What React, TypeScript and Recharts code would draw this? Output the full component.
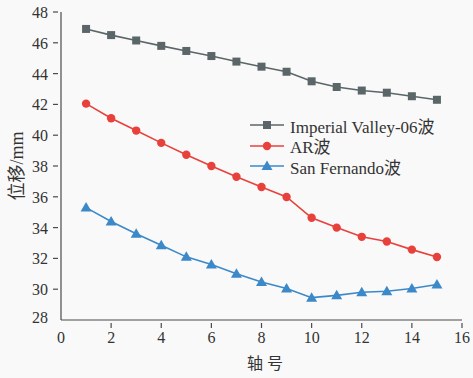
import React from 'react';
import { LineChart, Line, XAxis, YAxis } from 'recharts';

const axles = [1, 2, 3, 4, 5, 6, 7, 8, 9, 10, 11, 12, 13, 14, 15];
const imperialValley = [46.9, 46.5, 46.15, 45.8, 45.47, 45.14, 44.78, 44.45, 44.12, 43.5, 43.13, 42.9, 42.76, 42.53, 42.3];
const arWave = [42.05, 41.1, 40.3, 39.5, 38.73, 38.0, 37.3, 36.64, 35.99, 34.64, 34.0, 33.4, 33.1, 32.57, 32.09];
const sanFernando = [35.3, 34.4, 33.6, 32.85, 32.1, 31.6, 31.0, 30.47, 30.05, 29.45, 29.6, 29.8, 29.87, 30.05, 30.3];
const xTicks = [0, 2, 4, 6, 8, 10, 12, 14, 16];
const yTicks = [28, 30, 32, 34, 36, 38, 40, 42, 44, 46, 48];

const data = axles.map((a, i) => ({
  axle: a,
  iv: imperialValley[i],
  ar: arWave[i],
  sf: sanFernando[i],
}));

const FONT = '"Liberation Serif", "Times New Roman", "Noto Sans CJK SC", serif';
const AXIS = '#4a4a4a';

const series = [
  { key: 'iv', name: 'Imperial Valley-06波', color: '#5b6668', shape: 'square' },
  { key: 'ar', name: 'AR波', color: '#e8413c', shape: 'circle' },
  { key: 'sf', name: 'San Fernando波', color: '#3c89c9', shape: 'triangle' },
];

const Marker = ({ cx, cy, shape, color }: any) => {
  if (cx == null || cy == null) return null;
  if (shape === 'square') {
    return <rect x={cx - 4} y={cy - 4} width={8} height={8} fill={color} />;
  }
  if (shape === 'triangle') {
    return <polygon points={`${cx},${cy - 5.5} ${cx - 5.5},${cy + 4} ${cx + 5.5},${cy + 4}`} fill={color} />;
  }
  return <circle cx={cx} cy={cy} r={4.2} fill={color} />;
};

// ticks point inward, so draw them by hand
const xTick = (props: any) => {
  const { x, y, payload } = props;
  return (
    <g key={`xt-${payload.value}`}>
      {payload.value !== 0 && <line x1={x} y1={y} x2={x} y2={y - 5} stroke={AXIS} strokeWidth={1.2} />}
      <text x={x} y={y + 15} textAnchor="middle" style={{ fontFamily: FONT }} fontSize={16} fill="#333">
        {payload.value}
      </text>
    </g>
  );
};

const yTick = (props: any) => {
  const { x, y, payload } = props;
  return (
    <g key={`yt-${payload.value}`}>
      {payload.value !== 28 && <line x1={x} y1={y} x2={x + 5} y2={y} stroke={AXIS} strokeWidth={1.2} />}
      <text x={x - 5} y={payload.value === 28 ? y + 3 : y + 6} textAnchor="end" style={{ fontFamily: FONT }} fontSize={16} fill="#333">
        {payload.value}
      </text>
    </g>
  );
};

const LegendBox = () => (
  <div style={{ position: 'absolute', left: 250, top: 115, fontFamily: FONT, fontSize: 17, color: '#333' }}>
    {series.map((s) => (
      <div key={s.key} style={{ display: 'flex', alignItems: 'center', height: 20.5 }}>
        <svg width={34} height={12} style={{ marginRight: 6 }}>
          <line x1={0} y1={6} x2={34} y2={6} stroke={s.color} strokeWidth={1.6} />
          <Marker cx={17} cy={6} shape={s.shape} color={s.color} />
        </svg>
        <span style={{ whiteSpace: 'nowrap' }}>{s.name}</span>
      </div>
    ))}
  </div>
);

export default function App() {
  return (
    <div style={{ position: 'fixed', top: 0, left: 0, width: 473, height: 378, background: '#f9f9f9' }}>
      <LineChart width={473} height={378} data={data} margin={{ top: 12, right: 11, left: 1, bottom: 28 }}>
        <XAxis
          dataKey="axle"
          type="number"
          domain={[0, 16]}
          ticks={xTicks}
          height={30}
          tickLine={false}
          tick={xTick}
          stroke={AXIS}
          strokeWidth={1.2}
          interval={0}
          allowDataOverflow
        />
        <YAxis
          type="number"
          domain={[28, 48]}
          ticks={yTicks}
          width={60}
          tickLine={false}
          tick={yTick}
          stroke={AXIS}
          strokeWidth={1.2}
          interval={0}
          allowDataOverflow
        />
        {series.map((s) => (
          <Line
            key={s.key}
            dataKey={s.key}
            name={s.name}
            stroke={s.color}
            strokeWidth={1.6}
            isAnimationActive={false}
            dot={(p: any) => <Marker key={`${s.key}-${p.index}`} cx={p.cx} cy={p.cy} shape={s.shape} color={s.color} />}
            activeDot={false}
          />
        ))}
      </LineChart>
      <LegendBox />
      <div
        style={{
          position: 'absolute',
          left: 247,
          top: 350,
          fontFamily: '"Noto Sans CJK SC", sans-serif',
          fontSize: 16,
          color: '#333',
          letterSpacing: 4,
        }}
      >
        轴号
      </div>
      <div
        style={{
          position: 'absolute',
          left: -30,
          top: 153,
          width: 90,
          textAlign: 'center',
          transform: 'rotate(-90deg)',
          fontFamily: FONT,
          fontSize: 18,
          color: '#333',
        }}
      >
        位移/mm
      </div>
    </div>
  );
}
